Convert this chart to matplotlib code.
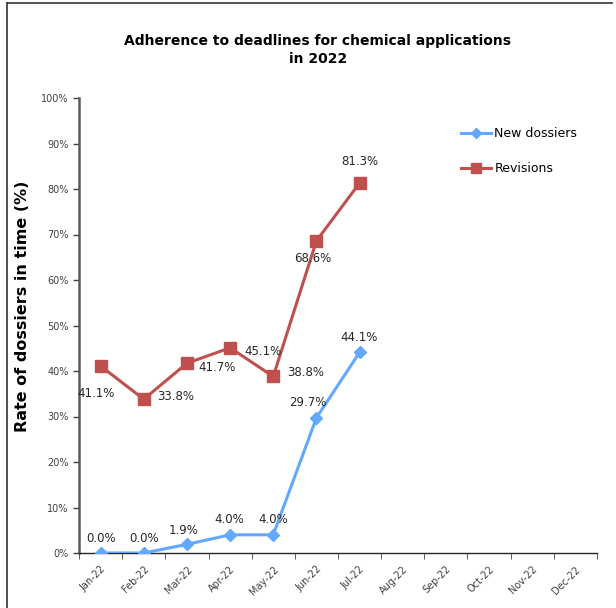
import matplotlib
matplotlib.use("Agg")
import matplotlib.pyplot as plt
from matplotlib.lines import Line2D
import numpy as np

months = ["Jan-22", "Feb-22", "Mar-22", "Apr-22", "May-22", "Jun-22",
          "Jul-22", "Aug-22", "Sep-22", "Oct-22", "Nov-22", "Dec-22"]
new_dossiers = [0.0, 0.0, 1.9, 4.0, 4.0, 29.7, 44.1]
revisions = [41.1, 33.8, 41.7, 45.1, 38.8, 68.6, 81.3]
y_ticks = list(range(0, 101, 10))

blue = "#62A8FF"
red = "#C0504D"

plt.rcParams['font.family'] = ['DejaVu Sans']
fig = plt.figure(figsize=(6.16, 6.08), dpi=100)
ax = fig.add_axes([79/616, 55/608, 518/616, 455/608])

x_new = np.arange(len(new_dossiers))
x_rev = np.arange(len(revisions))
ax.plot(x_new, new_dossiers, color=blue, lw=2.2, marker='D', ms=6,
        mec=blue, mfc=blue, label="New dossiers", zorder=3)
ax.plot(x_rev, revisions, color=red, lw=2.2, marker='s', ms=8.5,
        mec=red, mfc=red, label="Revisions", zorder=3)

# label offsets in pixels (dx, dy)
new_off = [(0, 15), (0, 15), (-3, 14), (-1, 15), (0, 15), (-9, 15), (-1, 15)]
rev_off = [(-5, -28), (32, 3), (30, -4), (33, -4), (32, 4), (-4, -18), (0, 22)]
for xi, v, (dx, dy) in zip(x_new, new_dossiers, new_off):
    ax.annotate(f"{v:.1f}%", (xi, v), xytext=(dx, dy), textcoords='offset pixels',
                ha='center', va='center', fontsize=8.5, color='#262626')
for xi, v, (dx, dy) in zip(x_rev, revisions, rev_off):
    ax.annotate(f"{v:.1f}%", (xi, v), xytext=(dx, dy), textcoords='offset pixels',
                ha='center', va='center', fontsize=8.5, color='#262626')

ax.set_xlim(-0.5, 11.5)
ax.set_ylim(0, 100)
ax.set_yticks(y_ticks)
ax.set_yticklabels([f"{t}%" for t in y_ticks], fontsize=7, color='#404040')
ax.set_xticks(np.arange(12))
ax.set_xticklabels(months, rotation=45, ha='right', va='top', fontsize=7,
                   color='#404040', rotation_mode='anchor')
ax.tick_params(axis='x', which='major', length=0, pad=8)
ax.set_xticks(np.arange(-0.5, 12, 1), minor=True)
ax.tick_params(axis='x', which='minor', length=4, color='#404040', direction='out')
ax.tick_params(axis='y', length=4, color='#404040', direction='out', width=1)

for s in ['top', 'right']:
    ax.spines[s].set_visible(False)
ax.spines['left'].set_color('#595959')
ax.spines['left'].set_linewidth(1.8)
ax.spines['bottom'].set_color('#262626')
ax.spines['bottom'].set_linewidth(1.0)

ax.set_ylabel("Rate of dossiers in time (%)", fontsize=11.5, fontweight='bold')
ax.yaxis.set_label_coords(-0.095, 0.543)

fig.text(0.516, 0.918, "Adherence to deadlines for chemical applications\nin 2022",
         ha='center', va='center', fontsize=10, fontweight='bold',
         linespacing=1.35)

leg = ax.legend(loc='upper left', bbox_to_anchor=(0.715, 0.96), frameon=False,
                fontsize=9, handlelength=2.4, labelspacing=1.75,
                handletextpad=0.3, markerscale=0.8)

# partial frame around the figure (top and left)
fig.add_artist(Line2D([7/616, 612/616], [1-3/608, 1-3/608], color='#333333',
                      lw=1.2, transform=fig.transFigure))
fig.add_artist(Line2D([7/616, 7/616], [0, 1-3/608], color='#333333',
                      lw=1.2, transform=fig.transFigure))

fig.savefig("out.png", dpi=100)
